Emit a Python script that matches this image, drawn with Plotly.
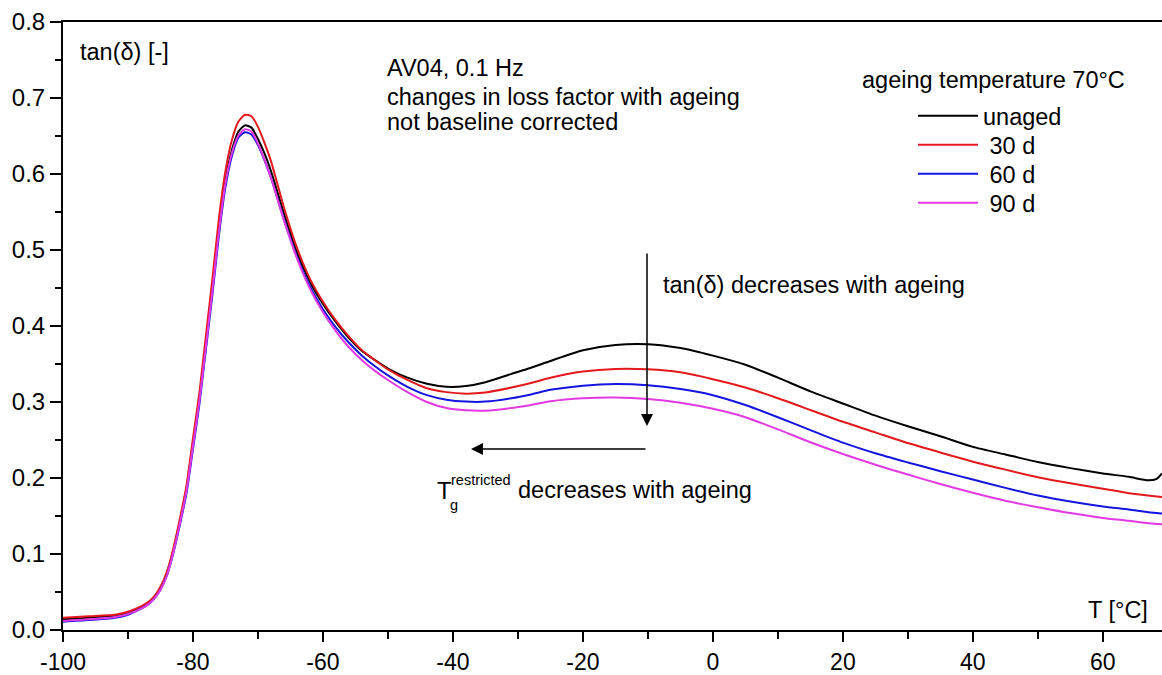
import plotly.graph_objects as go

# ---------------- data ----------------
temperature = [-100, -96, -92, -90, -88, -87, -86, -85, -84, -83, -82, -81, -80, -79, -78, -77, -76,
               -75, -74, -73, -72, -71, -70, -69, -68, -66, -64, -62, -60, -58, -56, -54, -52,
               -50, -47, -44, -41, -38, -35, -31, -28, -25, -20, -15, -10, -5, 0, 5, 10, 15,
               20, 25, 30, 35, 40, 45, 50, 55, 60, 64, 67, 68.3, 69.1]

tan_unaged = [0.014, 0.016, 0.019, 0.023, 0.030, 0.035, 0.043, 0.055, 0.075, 0.105, 0.143, 0.185,
              0.245, 0.305, 0.378, 0.452, 0.530, 0.592, 0.632, 0.656, 0.664, 0.661, 0.646, 0.627,
              0.604, 0.548, 0.497, 0.458, 0.429, 0.405, 0.384, 0.367, 0.355, 0.344, 0.332, 0.324,
              0.320, 0.321, 0.326, 0.337, 0.345, 0.354, 0.368, 0.375, 0.376, 0.371, 0.361, 0.349,
              0.332, 0.314, 0.298, 0.282, 0.268, 0.255, 0.241, 0.231, 0.221, 0.213, 0.206, 0.2015,
              0.197, 0.199, 0.206]

tan_30d = [0.016, 0.018, 0.020, 0.024, 0.031, 0.036, 0.044, 0.057, 0.077, 0.108, 0.147, 0.190,
           0.252, 0.313, 0.388, 0.463, 0.542, 0.604, 0.645, 0.669, 0.678, 0.676, 0.662, 0.641,
           0.617, 0.556, 0.503, 0.462, 0.432, 0.407, 0.386, 0.368, 0.355, 0.343, 0.329, 0.318,
           0.313, 0.311, 0.3125, 0.319, 0.325, 0.332, 0.340, 0.3435, 0.343, 0.339, 0.330, 0.319,
           0.305, 0.2895, 0.274, 0.260, 0.246, 0.2335, 0.2215, 0.211, 0.201, 0.193, 0.186, 0.180,
           0.177, 0.1758, 0.175]

tan_60d = [0.011, 0.013, 0.016, 0.020, 0.028, 0.033, 0.041, 0.053, 0.072, 0.102, 0.139, 0.180,
           0.238, 0.298, 0.370, 0.442, 0.520, 0.583, 0.624, 0.648, 0.655, 0.652, 0.638, 0.618,
           0.595, 0.540, 0.491, 0.452, 0.422, 0.398, 0.378, 0.361, 0.347, 0.335, 0.320, 0.309,
           0.303, 0.3005, 0.3005, 0.305, 0.310, 0.316, 0.3215, 0.3237, 0.322, 0.317, 0.309, 0.296,
           0.280, 0.263, 0.2465, 0.2325, 0.2205, 0.209, 0.198, 0.187, 0.177, 0.169, 0.1625, 0.1585,
           0.155, 0.154, 0.1532]

tan_90d = [0.012, 0.014, 0.017, 0.021, 0.028, 0.033, 0.041, 0.053, 0.072, 0.103, 0.141, 0.183,
           0.242, 0.302, 0.374, 0.447, 0.525, 0.588, 0.628, 0.651, 0.659, 0.656, 0.640, 0.619,
           0.595, 0.539, 0.489, 0.449, 0.418, 0.393, 0.372, 0.355, 0.341, 0.329, 0.313, 0.300,
           0.292, 0.289, 0.2885, 0.292, 0.296, 0.301, 0.305, 0.306, 0.304, 0.299, 0.291, 0.280,
           0.264, 0.247, 0.2315, 0.2175, 0.2045, 0.192, 0.1805, 0.170, 0.1616, 0.1538, 0.1475,
           0.1437, 0.1405, 0.1395, 0.139]

series_names = ["unaged", " 30 d", " 60 d", " 90 d"]
series_values = [tan_unaged, tan_30d, tan_60d, tan_90d]
series_colors = ["#000000", "#e3191c", "#1515e0", "#e23ae2"]

x_ticks = [-100, -80, -60, -40, -20, 0, 20, 40, 60]
x_ticktext = ["-100", "-80", "-60", "-40", "-20", "0", "20", "40", "60"]
y_ticks = [0.0, 0.1, 0.2, 0.3, 0.4, 0.5, 0.6, 0.7, 0.8]

# ---------------- figure ----------------
W, H = 1162, 675
ML, MR, MT, MB = 63, 0, 22, 45
X0, X1 = -100, 69.1
Y0, Y1 = 0.0, 0.8
FONT = "Liberation Sans, Arial, Helvetica, sans-serif"


def px_x(px):
    return X0 + (px - ML) / (W - ML - MR) * (X1 - X0)


def px_y(py):
    return Y0 + (H - MB - py) / (H - MT - MB) * (Y1 - Y0)


def paper_x(px):
    return (px - ML) / (W - ML - MR)


def paper_y(py):
    return (H - MB - py) / (H - MT - MB)


legend_keys = ["legend", "legend2", "legend3", "legend4"]
legend_centers = [116, 145, 174, 203]

fig = go.Figure()
for name, vals, col, lk in zip(series_names, series_values, series_colors, legend_keys):
    fig.add_trace(go.Scatter(x=temperature, y=vals, name=name, mode="lines", legend=lk,
                             line=dict(color=col, width=2, shape="spline", smoothing=0.6)))

annotations = []


def text(px, py, s, size=23.5, xanchor="left"):
    annotations.append(dict(x=px_x(px), y=px_y(py), xref="x", yref="y", text=s,
                            showarrow=False, xanchor=xanchor, yanchor="middle",
                            font=dict(size=size, color="black", family=FONT)))


text(78, 52, "tan(δ) [-]")
text(385, 68, "AV04, 0.1 Hz")
text(385, 97, "changes in loss factor with ageing")
text(385, 122, "not baseline corrected")
text(860, 80, "ageing temperature 70°C")
text(661, 285, "tan(δ) decreases with ageing")
text(435, 490, "T", size=24)
text(449, 480, "restricted", size=14.5)
text(448, 505, "g", size=14.5)
text(516, 490, "decreases with ageing")
text(1150, 610, "T [°C]", xanchor="right")

# arrows
annotations.append(dict(x=px_x(647), y=px_y(426), ax=px_x(647), ay=px_y(252),
                        xref="x", yref="y", axref="x", ayref="y", text="", showarrow=True,
                        arrowhead=2, arrowsize=1.6, arrowwidth=1.5, arrowcolor="black"))
annotations.append(dict(x=px_x(471), y=px_y(449), ax=px_x(647), ay=px_y(449),
                        xref="x", yref="y", axref="x", ayref="y", text="", showarrow=True,
                        arrowhead=2, arrowsize=1.6, arrowwidth=1.5, arrowcolor="black"))

layout_legends = {}
for lk, c in zip(legend_keys, legend_centers):
    layout_legends[lk] = dict(x=paper_x(913), y=paper_y(c - 22), xanchor="left", yanchor="top",
                              bgcolor="rgba(0,0,0,0)", borderwidth=0,
                              font=dict(size=23.5, family=FONT, color="black"), itemwidth=60)

fig.update_layout(
    width=W, height=H,
    margin=dict(l=ML, r=MR, t=MT, b=MB, pad=0, autoexpand=False),
    paper_bgcolor="white", plot_bgcolor="white",
    font=dict(family=FONT, size=24, color="black"),
    showlegend=True,
    annotations=annotations,
    **layout_legends,
)

fig.update_xaxes(range=[X0, X1], tickvals=x_ticks, ticktext=x_ticktext, ticks="outside",
                 ticklen=10, tickwidth=2, tickcolor="black", showline=True, linewidth=2,
                 linecolor="black", mirror=True, showgrid=False, zeroline=False,
                 tickfont=dict(size=23), automargin=False,
                 minor=dict(tickvals=[-90, -70, -50, -30, -10, 10, 30, 50], ticks="outside",
                            ticklen=7, tickwidth=2, tickcolor="black", showgrid=False))
fig.update_yaxes(range=[Y0, Y1], tickvals=y_ticks, tickformat=".1f", ticks="outside",
                 ticklen=11, tickwidth=2, tickcolor="black", showline=True, linewidth=2,
                 linecolor="black", showgrid=False, zeroline=False, tickfont=dict(size=24),
                 automargin=False,
                 minor=dict(tickvals=[0.05, 0.15, 0.25, 0.35, 0.45, 0.55, 0.65, 0.75],
                            ticks="outside", ticklen=6, tickwidth=2, tickcolor="black",
                            showgrid=False))

fig.write_html("out.html")
